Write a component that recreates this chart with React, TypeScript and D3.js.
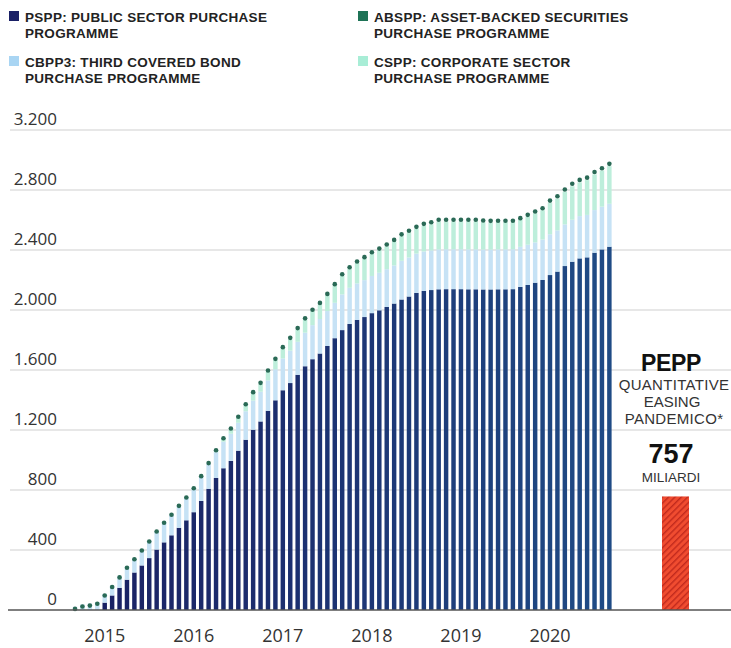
import React from "react";
import * as d3 from "d3";

// Monthly categories: Nov 2014 – Nov 2020
const months: string[] = d3
  .timeMonths(new Date(2014, 10, 1), new Date(2020, 11, 1))
  .map(d3.timeFormat("%Y-%m"));

// Holdings, billions of euro
const pspp = [
  0, 0, 0, 0, 49, 97, 148, 202, 250, 297, 346, 403, 451, 498, 548, 598, 652, 727, 808,
  880, 945, 994, 1062, 1135, 1202, 1257, 1328, 1398, 1465,
  1513, 1568, 1625, 1672, 1710, 1760, 1812, 1866, 1907, 1934,
  1953, 1979, 1998, 2020, 2043, 2070, 2090, 2114, 2127, 2133,
  2138, 2139, 2139, 2139, 2138, 2138, 2137, 2137, 2138, 2138,
  2139, 2154, 2167, 2182, 2200, 2233, 2256, 2293, 2322, 2344,
  2351, 2382, 2404, 2422,
];
const cbpp3 = [
  21, 36, 42, 53, 58, 66, 78, 88, 96, 106, 116, 124, 132, 138, 146, 152, 158, 163, 168,
  172, 177, 181, 186, 190, 194, 198, 203, 207, 212,
  216, 220, 224, 227, 230, 233, 236, 238, 241, 243,
  246, 248, 250, 252, 254, 258, 260, 262, 263, 264,
  266, 266, 266, 266, 266, 266, 266, 266, 266, 266,
  266, 267, 268, 269, 270, 272, 275, 278, 280, 282,
  283, 284, 285, 286,
];
const cspp = [
  0, 0, 0, 0, 0, 0, 0, 0, 0, 0, 0, 0, 0, 0, 0, 0, 0, 0, 0,
  8, 18, 30, 34, 40, 49, 51, 57, 61, 66,
  76, 82, 86, 93, 97, 104, 114, 124, 127, 136,
  142, 147, 150, 152, 158, 164, 166, 166, 171, 175,
  184, 184, 184, 184, 186, 186, 182, 180, 181, 181,
  180, 180, 188, 193, 195, 210, 212, 217, 223, 225,
  232, 238, 241, 251,
];
const abspp = [
  1, 2, 2, 3, 4, 5, 6, 6, 7, 8, 9, 11, 13, 14, 15, 15, 16, 17, 18,
  20, 20, 20, 21, 21, 22, 23, 23, 23, 24,
  24, 24, 24, 24, 25, 25, 25, 25, 25, 25,
  26, 26, 26, 27, 27, 27, 27, 27, 28, 28,
  28, 27, 27, 27, 26, 26, 26, 26, 25, 25,
  25, 26, 26, 27, 28, 29, 30, 30, 31, 31,
  31, 31, 30, 30,
];

const yearLabels = ["2015", "2016", "2017", "2018", "2019", "2020"];
const yTicks = [0, 400, 800, 1200, 1600, 2000, 2400, 2800, 3200];
const peppCategories = ["PEPP"];
const peppValues = [757];

const seriesKeys = ["PSPP", "CBPP3", "CSPP", "ABSPP"];

const W = 731;
const H = 648;

const fmt = d3
  .formatLocale({ decimal: ",", thousands: ".", grouping: [3], currency: ["", "€"] })
  .format(",");

export default function App() {
  const x = d3
    .scaleBand<string>()
    .domain(months)
    .range([72.8, 611.6])
    .paddingInner(0.4)
    .paddingOuter(0);
  const y = d3.scaleLinear().domain([0, 3200]).range([610, 130]);
  const xP = d3.scaleBand<string>().domain(peppCategories).range([662, 689]).padding(0);

  const table = months.map((m, i) => ({
    month: m,
    PSPP: pspp[i],
    CBPP3: cbpp3[i],
    CSPP: cspp[i],
    ABSPP: abspp[i],
  }));
  const stacked = d3.stack<any>().keys(seriesKeys)(table);

  const psppColor = d3
    .scaleLinear<string>()
    .domain([0, 30, months.length - 1])
    .range(["#1a1f62", "#1c3070", "#1f4b85"])
    .interpolate(d3.interpolateRgb);

  const layerColor: Record<string, string> = {
    CBPP3: "#c6e2f5",
    CSPP: "#bdeedb",
  };

  const bw = x.bandwidth();

  const legend = [
    { color: "#1a2066", lines: ["PSPP: PUBLIC SECTOR PURCHASE", "PROGRAMME"], lx: 9, ly: 11 },
    { color: "#1e7356", lines: ["ABSPP: ASSET-BACKED SECURITIES", "PURCHASE PROGRAMME"], lx: 358, ly: 11 },
    { color: "#a9d5f3", lines: ["CBPP3: THIRD COVERED BOND", "PURCHASE PROGRAMME"], lx: 9, ly: 56 },
    { color: "#a8edd6", lines: ["CSPP: CORPORATE SECTOR", "PURCHASE PROGRAMME"], lx: 358, ly: 56 },
  ];

  const font = "'Open Sans', 'DejaVu Sans', sans-serif";
  const font2 = "'Liberation Sans', Arial, sans-serif";

  return (
    <svg
      width={W}
      height={H}
      viewBox={`0 0 ${W} ${H}`}
      style={{ position: "absolute", left: 0, top: 0, background: "#fff", display: "block" }}
    >
      <defs>
        <pattern id="hatch" patternUnits="userSpaceOnUse" width={4.5} height={4.5} patternTransform="rotate(45)">
          <rect width={4.5} height={4.5} fill="#f04c30" />
          <rect width={1.4} height={4.5} fill="#c22a1d" />
        </pattern>
      </defs>
      <rect width={W} height={H} fill="#ffffff" />

      {/* Legend */}
      {legend.map((l, i) => (
        <g key={i}>
          <rect x={l.lx} y={l.ly} width={10} height={10} fill={l.color} />
          {l.lines.map((t, j) => (
            <text
              key={j}
              x={l.lx + 16}
              y={l.ly + 11 + j * 15.5}
              fontFamily={font2}
              fontSize={13.5}
              fontWeight={700}
              letterSpacing={0.3}
              fill="#222"
            >
              {t}
            </text>
          ))}
        </g>
      ))}

      {/* Gridlines */}
      {yTicks
        .filter((t) => t > 0)
        .map((t) => (
          <line key={t} x1={10} x2={W} y1={y(t)} y2={y(t)} stroke="#cfcfcf" strokeWidth={1} />
        ))}
      {yTicks.map((t) => (
        <text
          key={"l" + t}
          x={57}
          y={y(t) - 5}
          textAnchor="end"
          fontFamily={font}
          fontSize={17}
          fill="#333"
        >
          {fmt(t)}
        </text>
      ))}

      {/* Stacked bars */}
      {stacked.map((layer) =>
        layer.key === "ABSPP"
          ? layer.map((d: any, i: number) => (
              <circle
                key={layer.key + i}
                cx={(x(d.data.month) as number) + bw / 2}
                cy={y(d[1]) + 2.2}
                r={2.3}
                fill="#2a6a56"
              />
            ))
          : layer.map((d: any, i: number) => {
              const h = y(d[0]) - y(d[1]);
              if (h <= 0) return null;
              return (
                <rect
                  key={layer.key + i}
                  x={x(d.data.month)}
                  y={y(d[1])}
                  width={bw}
                  height={h}
                  fill={layer.key === "PSPP" ? psppColor(i) : layerColor[layer.key]}
                />
              );
            })
      )}

      {/* PEPP bar */}
      {peppCategories.map((c, i) => (
        <rect
          key={c}
          x={xP(c)}
          y={y(peppValues[i])}
          width={xP.bandwidth()}
          height={y(0) - y(peppValues[i])}
          fill="url(#hatch)"
        />
      ))}

      {/* Baseline */}
      <line x1={8} x2={W} y1={y(0)} y2={y(0)} stroke="#555" strokeWidth={1.3} />

      {/* Year labels */}
      {yearLabels.map((yr) => {
        const key = `${yr}-03`;
        return (
          <text
            key={yr}
            x={(x(key) as number) + bw / 2}
            y={642}
            textAnchor="middle"
            fontFamily={font}
            fontSize={18}
            fill="#333"
          >
            {yr}
          </text>
        );
      })}

      {/* PEPP annotation */}
      <g fontFamily={font2} textAnchor="middle">
        <text x={671} y={371} fontSize={23} fontWeight={700} letterSpacing={-0.3} fill="#111">
          PEPP
        </text>
        <text x={674} y={390} fontSize={15} letterSpacing={0.3} fill="#333">
          QUANTITATIVE
        </text>
        <text x={672} y={407} fontSize={15} fill="#333">
          EASING
        </text>
        <text x={674} y={424} fontSize={15} letterSpacing={0.3} fill="#333">
          PANDEMICO*
        </text>
        <text x={671} y={463} fontSize={27} fontWeight={700} fill="#111">
          {peppValues[0]}
        </text>
        <text x={671} y={482} fontSize={13.5} fill="#333">
          MILIARDI
        </text>
      </g>
    </svg>
  );
}
